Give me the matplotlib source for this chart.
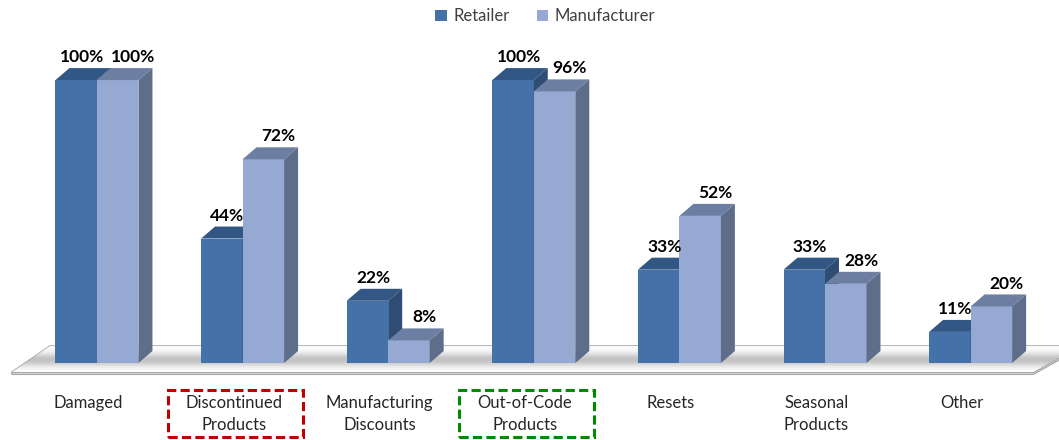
import matplotlib.pyplot as plt
from matplotlib.patches import Polygon, Rectangle, Patch
import numpy as np

plt.rcParams["font.family"] = ["Lato", "DejaVu Sans"]

categories = ["Damaged", "Discontinued\nProducts", "Manufacturing\nDiscounts",
              "Out-of-Code\nProducts", "Resets", "Seasonal\nProducts", "Other"]
retailer = [100, 44, 22, 100, 33, 33, 11]
manufacturer = [100, 72, 8, 96, 52, 28, 20]
series_names = ["Retailer", "Manufacturer"]
highlight = {"Discontinued\nProducts": "#C00000", "Out-of-Code\nProducts": "#008A00"}

# front / top / side shades for each series
shades = [
    ("#4472A8", "#335785", "#2E4C74"),
    ("#95A9D3", "#6C7FA3", "#5E6D8A"),
]
label_dx = [4, 11]   # horizontal nudge of value labels (points)

W = 0.285      # bar width in category units
DX, DY = 0.096, 4.24   # 3d depth offset

fig = plt.figure(figsize=(10.59, 4.4), dpi=100)
ax = fig.add_axes([0, 0, 1, 1])
ax.set_xlim(-0.666, 6.607)
ax.set_ylim(-27.2, 128.3)
ax.axis("off")

# floor slab with a soft shadow
floor = [(-0.584, -3.2), (-0.323, 6.0), (6.75, 6.0), (6.43, -3.2)]
slab = Polygon([(-0.584, -3.2), (6.43, -3.2), (6.75, 6.0), (6.75, 5.2),
                (6.43, -4.0), (-0.584, -4.0)], closed=True,
               facecolor="#EDEDED", edgecolor="#A6A6A6", lw=1.0, zorder=1)
ax.add_patch(slab)
floor_patch = Polygon(floor, closed=True, facecolor="white",
                      edgecolor="#A6A6A6", lw=1.2, zorder=1)
ax.add_patch(floor_patch)
yy = np.linspace(6.0, -3.2, 60)
shade = 1 - 0.24 * np.exp(-((yy - 1.0) / 2.4) ** 2)
img = ax.imshow(np.tile(shade[:, None], (1, 10)), cmap="gray", vmin=0, vmax=1,
                extent=(-0.6, 6.8, -3.2, 6.0), aspect="auto", zorder=1.5,
                interpolation="bilinear")
img.set_clip_path(floor_patch)


def draw_bar(x0, h, cols, ldx):
    front, top, side = cols
    ax.add_patch(Rectangle((x0, 0), W, h, facecolor=front, edgecolor="none", zorder=3))
    ax.add_patch(Polygon([(x0, h), (x0 + W, h), (x0 + W + DX, h + DY), (x0 + DX, h + DY)],
                         closed=True, facecolor=top, edgecolor="none", zorder=3))
    ax.add_patch(Polygon([(x0 + W, 0), (x0 + W + DX, DY), (x0 + W + DX, h + DY), (x0 + W, h)],
                         closed=True, facecolor=side, edgecolor="none", zorder=3))
    ax.annotate(f"{h}%", (x0 + W / 2, h), xytext=(ldx, 16.5),
                textcoords="offset points", ha="center", va="center",
                fontsize=12.5, fontweight="bold", color="black", zorder=5)


for i, cat in enumerate(categories):
    draw_bar(i - W, retailer[i], shades[0], label_dx[0])
    draw_bar(i, manufacturer[i], shades[1], label_dx[1])

    ax.text(i - 0.06, -11.2, cat, ha="center", va="top", fontsize=12,
            color="#262626", linespacing=1.5)
    if cat in highlight:
        bw, y0, y1 = 0.927, -26.1, -9.5
        ax.add_patch(Rectangle((i - 0.05 - bw / 2, y0), bw, y1 - y0, fill=False,
                               edgecolor=highlight[cat], lw=2.2,
                               linestyle=(0, (3, 1.4)), zorder=6))

handles = [Patch(facecolor=shades[k][0], label=series_names[k]) for k in range(2)]
ax.legend(handles=handles, loc="upper center", bbox_to_anchor=(0.515, 1.015),
          ncol=2, frameon=False, fontsize=12, handlelength=0.7, handleheight=0.7,
          handletextpad=0.4, columnspacing=1.6, labelcolor="#404040")

plt.savefig("out.png", dpi=100)
plt.close()
